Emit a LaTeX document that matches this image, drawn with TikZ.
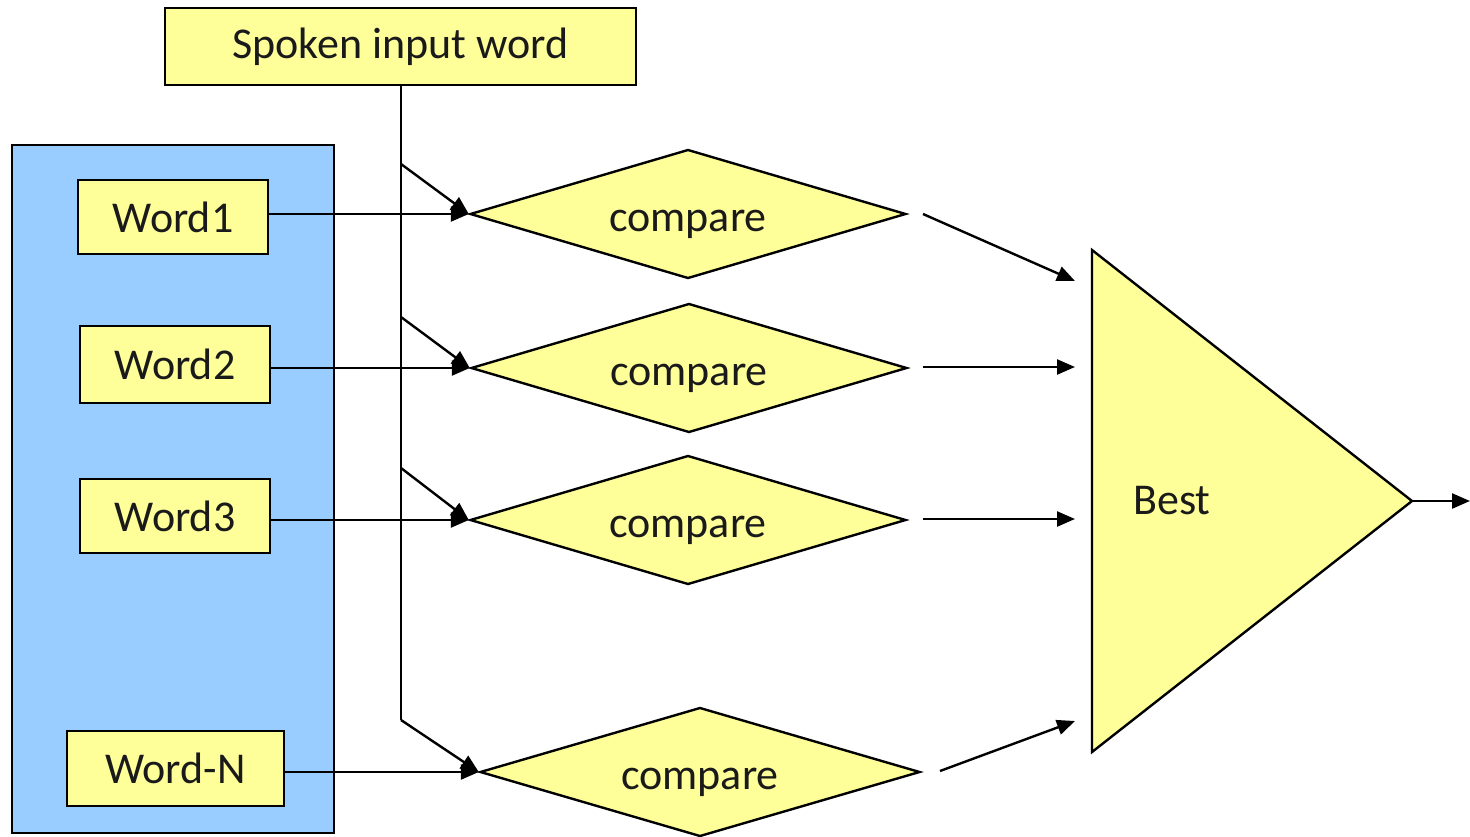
\documentclass[tikz,border=0pt]{standalone}
\usepackage{fontspec}
\setmainfont{Carlito}
\usetikzlibrary{arrows.meta,shapes.geometric}
\definecolor{boxyellow}{HTML}{FFFF99}
\definecolor{panelblue}{HTML}{99CCFF}
\definecolor{txt}{HTML}{1A1A1A}
\begin{document}
\begin{tikzpicture}[x=1pt,y=-1pt,
  lbl/.style={font=\fontsize{44}{50}\selectfont, text=txt},
  wordbox/.style={draw=black, line width=2.4pt, fill=boxyellow, lbl, inner sep=0pt},
  cmp/.style={diamond, shape aspect=3.4, draw=black, line width=2.4pt, fill=boxyellow, lbl, inner sep=0pt, minimum width=436pt, minimum height=129pt, text depth=0pt, text height=34pt},
  conn/.style={line width=2.4pt, -{Triangle[length=18pt,width=15pt]}},
  line/.style={line width=2.4pt}]
\useasboundingbox (0,0) rectangle (1470,836);
% panel
\node[draw=black, line width=2.4pt, fill=panelblue, minimum width=322pt, minimum height=688pt, inner sep=0pt] (panel) at (173,489) {};
% top box
\node[wordbox, minimum width=471pt, minimum height=77pt] (spoken) at (400.5,46.5) {Spoken input word};
% word boxes
\node[wordbox, minimum width=190pt, minimum height=74pt] (w1) at (173,217) {Word1};
\node[wordbox, minimum width=190pt, minimum height=77pt] (w2) at (175,364.5) {Word2};
\node[wordbox, minimum width=190pt, minimum height=74pt] (w3) at (175,516) {Word3};
\node[wordbox, minimum width=217pt, minimum height=75pt] (wn) at (175.5,768.5) {Word-N};
% compare diamonds
\node[cmp] (c1) at (688,214) {compare};
\node[cmp] (c2) at (689,368) {compare};
\node[cmp] (c3) at (688,520) {compare};
\node[cmp, minimum width=440pt] (c4) at (700,772) {compare};
% best triangle
\coordinate (bt) at (1092,250);
\coordinate (bb) at (1092,752);
\coordinate (bp) at (1412,501);
\draw[line width=2.4pt, fill=boxyellow] (bt) -- (bp) -- (bb) -- cycle;
\node[lbl] (best) at (1172,501) {Best};
% trunk
\coordinate (t1) at (401,164);
\coordinate (t2) at (401,317);
\coordinate (t3) at (401,468);
\coordinate (t4) at (401,720);
\draw[line] (spoken.south -| t1) -- (t4);
% branch arrows
\draw[conn] (t1) -- (c1.west);
\draw[conn] (t2) -- (c2.west);
\draw[conn] (t3) -- (c3.west);
\draw[conn] (t4) -- (c4.west);
% word arrows
\draw[conn] (c1.west -| w1.east) -- (c1.west);
\draw[conn] (c2.west -| w2.east) -- (c2.west);
\draw[conn] (c3.west -| w3.east) -- (c3.west);
\draw[conn] (c4.west -| wn.east) -- (c4.west);
% output arrows
\coordinate (o1s) at (923,214);
\coordinate (o1e) at (1075,281);
\coordinate (o2s) at (923,367);
\coordinate (o2e) at (1075,367);
\coordinate (o3s) at (923,519);
\coordinate (o3e) at (1075,519);
\coordinate (o4s) at (940,771);
\coordinate (o4e) at (1075,721);
\draw[conn] (o1s) -- (o1e);
\draw[conn] (o2s) -- (o2e);
\draw[conn] (o3s) -- (o3e);
\draw[conn] (o4s) -- (o4e);
\coordinate (out) at (1470,501);
\draw[conn] (bp) -- (out);
\end{tikzpicture}
\end{document}
